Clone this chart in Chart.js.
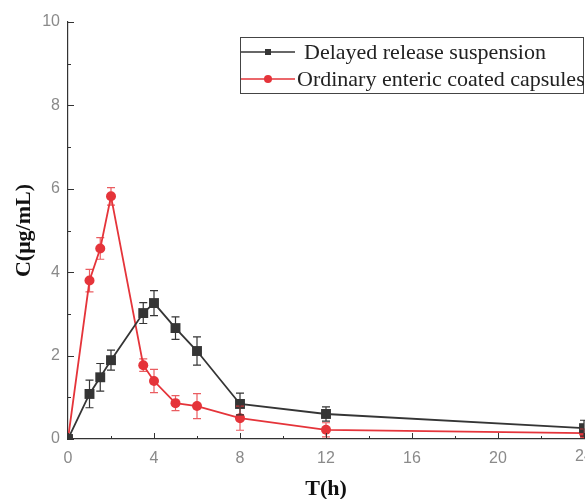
<!DOCTYPE html>
<html>
<head>
<meta charset="utf-8">
<script src="https://cdn.jsdelivr.net/npm/chart.js@4"></script>
<style>
    html, body { margin: 0; padding: 0; background: #fff; }
    #wrap { width: 585px; height: 499px; }
</style>
</head>
<body>
<div id="wrap"><canvas id="pk_chart" width="585" height="499"></canvas></div>
<script>
// sampling times (h)
var times = [0, 1, 1.5, 2, 3.5, 4, 5, 6, 8, 12, 24];

// plasma concentration (ug/mL) + SD
var delayed = [0, 1.08, 1.48, 1.89, 3.02, 3.26, 2.66, 2.11, 0.84, 0.60, 0.26];
var delayedErr = [0, 0.33, 0.33, 0.24, 0.25, 0.30, 0.27, 0.34, 0.26, 0.17, 0.19];
var ordinary = [0, 3.80, 4.57, 5.82, 1.77, 1.39, 0.86, 0.79, 0.50, 0.22, 0.14];
var ordinaryErr = [0, 0.27, 0.26, 0.21, 0.15, 0.28, 0.18, 0.30, 0.29, 0.17, 0.10];

var seriesNames = ['Delayed release suspension', 'Ordinary enteric coated capsules'];

var BLACK = '#353535';
var RED = '#e5343a';
var TICK_FONT = '16px "Liberation Sans", Arial, sans-serif';

function toPoints(ys) {
    return times.map(function (t, i) { return { x: t, y: ys[i] }; });
}

// error bars, drawn through the scales
var errorBars = {
    id: 'errorBars',
    afterDatasetsDraw: function (chart) {
        var ctx = chart.ctx;
        var xs = chart.scales.x, ys = chart.scales.y;
        var errs = [delayedErr, ordinaryErr];
        var vals = [delayed, ordinary];
        ctx.save();
        [1, 0].forEach(function (d) {
            ctx.strokeStyle = d === 0 ? BLACK : 'rgba(229,52,58,0.8)';
            ctx.lineWidth = 1.2;
            times.forEach(function (t, i) {
                var e = errs[d][i];
                if (!e) return;
                var px = xs.getPixelForValue(t);
                var top = ys.getPixelForValue(vals[d][i] + e);
                var bot = ys.getPixelForValue(vals[d][i] - e);
                ctx.beginPath();
                ctx.moveTo(px, top); ctx.lineTo(px, bot);
                ctx.moveTo(px - 4, top); ctx.lineTo(px + 4, top);
                ctx.moveTo(px - 4, bot); ctx.lineTo(px + 4, bot);
                ctx.stroke();
            });
        });
        ctx.restore();
    }
};

// inward ticks (major + minor), last x label (runs off the edge) and framed legend
var axisDeco = {
    id: 'axisDeco',
    afterDraw: function (chart) {
        var ctx = chart.ctx;
        var xs = chart.scales.x, ys = chart.scales.y;
        var area = chart.chartArea;
        ctx.save();
        ctx.strokeStyle = '#333';
        ctx.lineWidth = 1;
        for (var v = 0; v <= 24; v += 2) {
            var px = Math.round(xs.getPixelForValue(v)) + 0.5;
            var len = v % 4 === 0 ? 6 : 3;
            ctx.beginPath();
            ctx.moveTo(px, area.bottom); ctx.lineTo(px, area.bottom - len);
            ctx.stroke();
        }
        for (var w = 0; w <= 10; w += 1) {
            var py = Math.round(ys.getPixelForValue(w)) + 0.5;
            var l2 = w % 2 === 0 ? 6 : 3;
            ctx.beginPath();
            ctx.moveTo(area.left, py); ctx.lineTo(area.left + l2, py);
            ctx.stroke();
        }

        ctx.font = TICK_FONT;
        ctx.fillStyle = '#8a8a8a';
        ctx.textAlign = 'center';
        ctx.textBaseline = 'top';
        ctx.fillText('24', xs.getPixelForValue(24), area.bottom + 10);

        // legend
        var bx = 240.5, by = 37.5, bw = 343, bh = 56;
        ctx.strokeStyle = '#444';
        ctx.strokeRect(bx, by, bw, bh);
        var rows = [
            { y: 52, color: BLACK, shape: 'rect', text: seriesNames[0], tx: 304 },
            { y: 79, color: RED, shape: 'circle', text: seriesNames[1], tx: 297 }
        ];
        ctx.font = '22px "Liberation Serif", "Times New Roman", serif';
        ctx.textAlign = 'left';
        ctx.textBaseline = 'middle';
        rows.forEach(function (r) {
            ctx.strokeStyle = r.color;
            ctx.fillStyle = r.color;
            ctx.lineWidth = 1.5;
            ctx.beginPath();
            ctx.moveTo(241, r.y); ctx.lineTo(295, r.y);
            ctx.stroke();
            if (r.shape === 'rect') {
                ctx.fillRect(265, r.y - 3, 6, 6);
            } else {
                ctx.beginPath();
                ctx.arc(268, r.y, 4, 0, Math.PI * 2);
                ctx.fill();
            }
            ctx.fillStyle = '#222';
            ctx.fillText(r.text, r.tx, r.y + 1);
        });
        ctx.restore();
    }
};

var ctx = document.getElementById('pk_chart').getContext('2d');
var pkChart = new Chart(ctx, {
    type: 'line',
    data: {
        datasets: [{
            label: seriesNames[0],
            data: toPoints(delayed),
            borderColor: BLACK,
            backgroundColor: BLACK,
            borderWidth: 1.8,
            pointStyle: 'rect',
            pointRadius: 7,
            pointBorderWidth: 0,
            tension: 0
        }, {
            label: seriesNames[1],
            data: toPoints(ordinary),
            borderColor: RED,
            backgroundColor: RED,
            borderWidth: 1.8,
            pointStyle: 'circle',
            pointRadius: 5,
            pointBorderWidth: 0,
            tension: 0
        }]
    },
    options: {
        responsive: false,
        animation: false,
        layout: { autoPadding: false, padding: { top: 22, right: 1, left: 0, bottom: 0 } },
        scales: {
            x: {
                type: 'linear',
                min: 0,
                max: 24,
                afterFit: function (s) { s.height = 60; },
                border: { display: true, color: '#333', width: 1.2 },
                // tick marks are hidden; tickLength only pushes the labels down
                grid: { display: false, drawTicks: true, tickLength: 10 },
                ticks: {
                    stepSize: 4,
                    padding: 0,
                    color: '#8a8a8a',
                    font: { family: 'Liberation Sans, Arial, sans-serif', size: 16 },
                    // 24 is drawn by the plugin so it does not squeeze the plot area
                    callback: function (v) { return v === 24 ? '' : v; }
                },
                title: {
                    display: true,
                    text: 'T(h)',
                    color: '#111',
                    padding: { top: 4, bottom: -4 },
                    font: { family: 'Liberation Serif, serif', size: 22, weight: 'bold' }
                }
            },
            y: {
                min: 0,
                max: 10,
                afterFit: function (s) { s.width = 68; },
                border: { display: true, color: '#333', width: 1.2 },
                grid: { display: false, drawTicks: false },
                ticks: {
                    stepSize: 2,
                    padding: 8,
                    color: '#8a8a8a',
                    font: { family: 'Liberation Sans, Arial, sans-serif', size: 16 }
                },
                title: {
                    display: true,
                    text: 'C(μg/mL)',
                    color: '#111',
                    padding: { top: 11, bottom: 0 },
                    font: { family: 'Liberation Serif, serif', size: 22, weight: 'bold' }
                }
            }
        },
        plugins: {
            legend: { display: false },
            tooltip: { enabled: false }
        }
    },
    plugins: [errorBars, axisDeco]
});
</script>
</body>
</html>
